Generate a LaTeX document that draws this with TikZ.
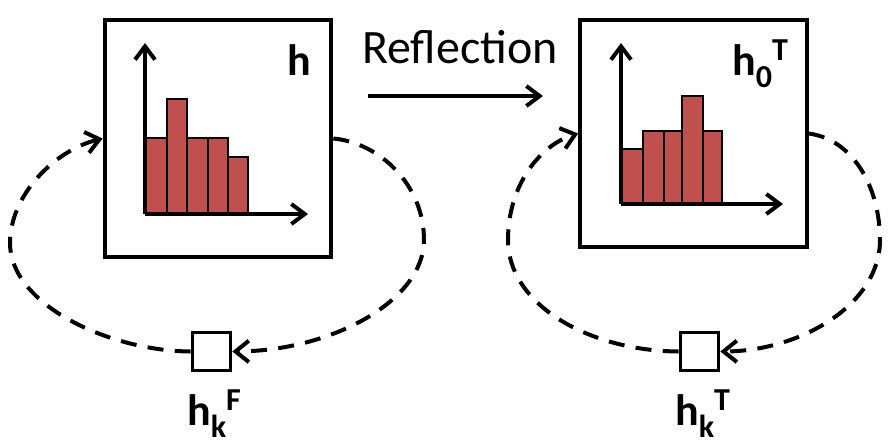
\documentclass[tikz,border=0pt]{standalone}
\usepackage{fontspec}
\setmainfont{Carlito}
\usetikzlibrary{arrows.meta}
\definecolor{barred}{HTML}{C0504D}
\newcommand\mysub[1]{\raisebox{-9pt}{\fontsize{24}{24}\selectfont #1}}
\newcommand\mysup[1]{\raisebox{11pt}{\fontsize{24}{24}\selectfont #1}}
\begin{document}
\begin{tikzpicture}[x=0.75pt,y=-0.75pt,
  bigbox/.style={draw,line width=3pt,inner sep=0pt},
  smallbox/.style={draw,line width=2.2pt,minimum size=29pt,inner sep=0pt,fill=white},
  loopline/.style={line width=3pt,dash pattern=on 12pt off 8.5pt,-{Straight Barb[length=10pt,width=16pt,line width=3pt]}},
  axis/.style={line width=2.5pt,-{Straight Barb[length=10pt,width=15pt,line width=3pt]}},
  bar/.style={fill=barred,draw=black,line width=1.5pt},
  lbl/.style={inner sep=0pt,anchor=base west,font=\bfseries\fontsize{33}{36}\selectfont}]
\useasboundingbox (0,0) rectangle (890,447);
% main boxes
\node[bigbox,minimum width=170pt,minimum height=178pt] (hbox) at (218,138.5) {};
\node[bigbox,minimum width=170pt,minimum height=170pt] (tbox) at (693.5,133.5) {};
% left histogram
\foreach \xa/\xb/\yt in {145/167/138, 167/187/99, 187/208/138, 208/228/138, 228/248/157}
  \draw[bar] (\xa,213) rectangle (\xb,\yt);
\draw[axis] (145,214) -- (145,43);
\draw[axis] (145,214) -- (308,214);
% right histogram
\foreach \xa/\xb/\yt in {621/643/149, 643/664/131, 664/682/131, 682/703/96, 703/722/131}
  \draw[bar] (\xa,203) rectangle (\xb,\yt);
\draw[axis] (621,204) -- (621,43);
\draw[axis] (621,204) -- (783,204);
% labels in boxes
\node[lbl] (hl) at (287,75) {h};
\node[lbl] (h0) at (732,75) {h\mysub{0}\mysup{T}};
% reflection
\node[inner sep=0pt,anchor=base west,font=\fontsize{36}{40}\selectfont] (refl) at (362,63) {Reflection};
\coordinate (r1) at (368,96);
\coordinate (r2) at (543,96);
\draw[axis] (r1) -- (r2);
% small boxes
\node[smallbox] (fs) at (211.5,351.5) {};
\node[smallbox] (ts) at (699.5,351.5) {};
\node[lbl] (fl) at (187,425) {h\mysub{k}\mysup{F}};
\node[lbl] (tl) at (675,425) {h\mysub{k}\mysup{T}};
% loops
\draw[loopline] (hbox.east) .. controls (380,143) and (424,185) .. (424,240)
  .. controls (424,301) and (331,351) .. (fs.east);
\draw[loopline] (fs.west) .. controls (110,351) and (10,305) .. (10,243)
  .. controls (10,195) and (55,150) .. (hbox.west);
\draw[loopline] (tbox.east) .. controls (855,140) and (880,190) .. (880,240)
  .. controls (880,305) and (800,351) .. (ts.east);
\draw[loopline] (ts.west) .. controls (590,351) and (508,305) .. (508,240)
  .. controls (508,185) and (540,145) .. (tbox.west);
\end{tikzpicture}
\end{document}
